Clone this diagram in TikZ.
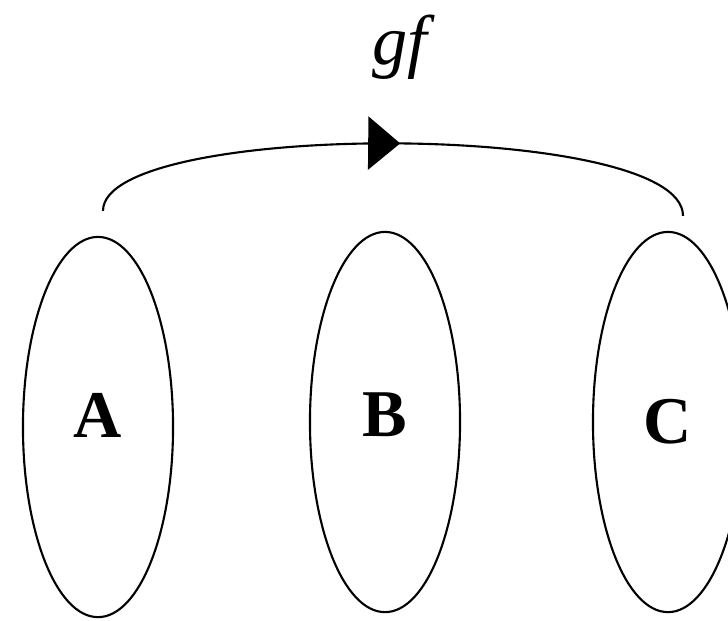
\documentclass[tikz,border=0pt]{standalone}
\usepackage{fontspec}
\setmainfont{Liberation Serif}
\usetikzlibrary{shapes.geometric,arrows.meta,decorations.markings,calc}

\begin{document}
\begin{tikzpicture}[
    x=0.01cm, y=-0.01cm,
    set/.style={draw, ellipse, line width=0.6pt, inner sep=0pt,
        minimum width=1.5cm, minimum height=3.8cm,
        font=\fontsize{19}{22}\selectfont\bfseries},
    mapname/.style={font=\fontsize{20}{24}\selectfont\itshape},
    midarrow/.style={postaction={decorate}, decoration={markings,
        mark=at position 0.51 with {\arrow{Triangle[length=0.32cm,width=0.53cm]}}}},
]
\useasboundingbox (0,0) rectangle (728,620);
\node[set, text depth=6.8pt] (A) at (98,427) {A};
\node[set, text depth=4pt] (B) at (385,422) {B};
\node[set] (C) at (668,422) {C};

\coordinate (gfstart) at ($(A.north)+(5,-25)$);
\coordinate (gfend) at ($(C.north)+(15,-15)$);
\draw[line width=0.6pt, midarrow] (gfstart) .. controls (103,120) and (683,120) .. (gfend);
\node[mapname] (gf) at (400,47) {gf};
\end{tikzpicture}
\end{document}
